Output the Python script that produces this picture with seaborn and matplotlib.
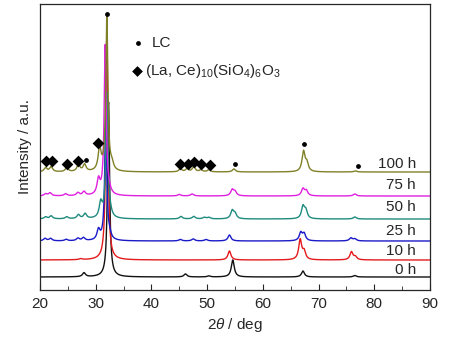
import numpy as np
import pandas as pd
import matplotlib
matplotlib.use("Agg")
import matplotlib.pyplot as plt
import seaborn as sns
from matplotlib.ticker import MultipleLocator

# ---- data (intensity in arbitrary units) ----
labels = ["0 h", "10 h", "25 h", "50 h", "75 h", "100 h"]
colors = ["#111111", "#e41a1c", "#1a1ac8", "#1f8a7e", "#e020e0", "#808028"]
offsets = [13, 30, 49, 71, 94, 118]

pos_0h = [27.9, 32.3, 46.1, 50.3, 54.6, 67.2, 76.5]
amp_0h = [4, 175, 3, 1, 17, 6, 1.5]
pos_10h = [27.3, 32.0, 54.0, 66.7, 67.4, 75.9, 76.6]
amp_10h = [1, 232, 9, 20, 8, 8, 3]
pos_25h = [20.9, 21.9, 24.7, 26.8, 27.8, 30.5, 31.8, 32.5, 45.2, 47.5, 49.8, 54.0, 66.8, 67.4, 75.8, 76.5]
amp_25h = [2.5, 2.5, 1.5, 2.5, 3, 10, 120, 4, 1.5, 2, 1.5, 6, 8, 7, 3, 2]
pos_50h = [21.0, 22.0, 24.8, 26.9, 28.1, 30.9, 32.0, 32.6, 45.3, 47.6, 49.5, 50.3, 54.5, 55.0, 67.2, 67.7, 76.5]
amp_50h = [2, 3, 2, 4, 5, 15, 125, 4, 2.5, 2.5, 1.5, 1.5, 8, 5, 12, 8, 2]
pos_75h = [21.0, 21.8, 24.6, 26.8, 27.9, 30.5, 31.7, 32.4, 45.0, 47.3, 54.5, 55.0, 67.2, 67.8, 76.5]
amp_75h = [2, 3, 2, 3, 4, 15, 150, 4, 1.5, 2, 6, 4, 7, 5, 2]
pos_100h = [21.0, 22.0, 24.8, 26.9, 28.0, 30.7, 32.0, 32.9, 45.2, 46.4, 47.6, 48.9, 50.3, 54.8, 67.3, 67.9, 76.6]
amp_100h = [4, 5, 4, 7, 7, 22, 154, 6, 3, 3, 5, 2, 2, 3, 20, 8, 1]

peak_pos = [pos_0h, pos_10h, pos_25h, pos_50h, pos_75h, pos_100h]
peak_amp = [amp_0h, amp_10h, amp_25h, amp_50h, amp_75h, amp_100h]

# phase markers (2theta, intensity position)
lc_x = [28.2, 32.0, 55.0, 67.3, 77.0]
lc_y = [130, 276, 126, 146, 124]
ap_x = [21.0, 22.1, 24.8, 26.9, 30.5, 45.2, 46.5, 47.6, 48.9, 50.5]
ap_y = [129, 129, 126, 129, 147, 126, 126, 128, 126, 125]

two_theta = np.linspace(20, 90, 4001)


def pattern(ps, amps):
    y = np.zeros_like(two_theta)
    for p, a in zip(ps, amps):
        g = 0.22 if a > 60 else 0.32
        y += a * g**2 / ((two_theta - p) ** 2 + g**2)
    return y


frames = []
for lab, off, ps, amps in zip(labels, offsets, peak_pos, peak_amp):
    frames.append(pd.DataFrame({"2theta": two_theta,
                                "I": off + pattern(ps, amps),
                                "sample": lab}))
df = pd.concat(frames, ignore_index=True)

sns.set_style("ticks")
plt.rcParams["font.family"] = ["Liberation Sans", "DejaVu Sans"]
plt.rcParams["mathtext.fontset"] = "custom"
plt.rcParams["mathtext.rm"] = "Liberation Sans"
plt.rcParams["mathtext.it"] = "Liberation Sans:italic"

fig = plt.figure(figsize=(4.52, 3.41), dpi=100)
ax = fig.add_axes([40 / 452, 1 - 290 / 341, 390 / 452, 286 / 341])

sns.lineplot(data=df, x="2theta", y="I", hue="sample", hue_order=labels,
             palette=dict(zip(labels, colors)), linewidth=1.0, legend=False,
             ax=ax, sort=False, estimator=None)

ax.scatter(lc_x, lc_y, s=6, color="black", marker="o", zorder=5)
ax.scatter(ap_x, ap_y, s=36, color="black", marker="D", zorder=5, linewidths=0)

label_y = [20, 39, 59, 83, 105, 126]
for lab, ly in zip(labels, label_y):
    ax.text(87.5, ly, lab, ha="right", va="center", fontsize=11)

# legend text
ax.scatter([37.6], [247], s=6, color="black")
ax.text(40.0, 247, "LC", va="center", fontsize=11)
ax.scatter([37.4], [219], s=30, color="black", marker="D", linewidths=0)
ax.text(38.9, 219, r"(La, Ce)$_{10}$(SiO$_4$)$_6$O$_3$", va="center", fontsize=11)

ax.set_xlim(20, 90)
ax.set_ylim(0, 286)
ax.xaxis.set_major_locator(MultipleLocator(10))
ax.xaxis.set_minor_locator(MultipleLocator(5))
ax.tick_params(axis="x", which="both", direction="in", labelsize=11, pad=5)
ax.tick_params(axis="x", which="major", length=4)
ax.tick_params(axis="x", which="minor", length=3)
ax.set_yticks([])
ax.set_xlabel(r"2$\it{\theta}$ / deg", fontsize=11, labelpad=4)
ax.set_ylabel("Intensity / a.u.", fontsize=11, labelpad=6)
for s in ax.spines.values():
    s.set_linewidth(0.9)
    s.set_visible(True)

fig.savefig("out.png", dpi=100)
